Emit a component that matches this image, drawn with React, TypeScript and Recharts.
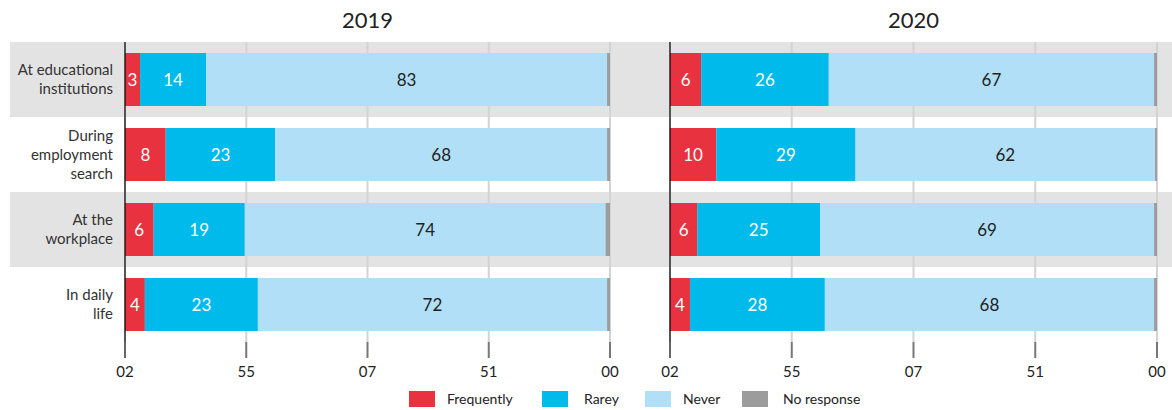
import React from 'react';
import { BarChart, Bar, XAxis, YAxis, CartesianGrid, LabelList } from 'recharts';

const categories = [
  'At educational\ninstitutions',
  'During\nemployment\nsearch',
  'At the\nworkplace',
  'In daily\nlife',
];
const years = ['2019', '2020'];

const frequently2019 = [3.1, 8.4, 5.9, 4.1];
const rarely2019 = [13.6, 22.6, 18.8, 23.3];
const never2019 = [82.7, 68.4, 74.4, 72.0];
const noResponse2019 = [0.6, 0.6, 0.9, 0.6];

const frequently2020 = [6.4, 9.5, 5.6, 4.1];
const rarely2020 = [26.2, 28.6, 25.2, 27.7];
const never2020 = [66.8, 61.5, 68.6, 67.6];
const noResponse2020 = [0.6, 0.4, 0.6, 0.6];

const tickValues = [0, 25, 50, 75, 100];
const tickLabels = ['02', '55', '07', '51', '00'];

const seriesNames = ['Frequently', 'Rarey', 'Never', 'No response'];
const COLORS = ['#e8323f', '#00baeb', '#b1dff7', '#9c9c9c'];
const LABEL_COLORS = ['#ffffff', '#ffffff', '#222222'];

const FONT = 'Lato, "Noto Sans", sans-serif';
const TOP = 42;
const BAND = 75;
const PLOT_H = BAND * categories.length;
const CHART_H = 385;
const BAND_GRAY = '#e3e3e3';

const build = (f: number[], r: number[], n: number[], x: number[]) =>
  categories.map((c, i) => ({ cat: c, f: f[i], r: r[i], n: n[i], x: x[i] }));

const data2019 = build(frequently2019, rarely2019, never2019, noResponse2019);
const data2020 = build(frequently2020, rarely2020, never2020, noResponse2020);

const XTick = (props: any) => {
  const { x, y, index } = props;
  return (
    <g>
      <line x1={x} x2={x} y1={y - 16} y2={y} stroke={index === 0 ? '#000' : '#777'} strokeWidth={index === 0 ? 1.2 : 2} />
      <text x={x} y={y + 19} textAnchor="middle" fontSize={15} fill="#222" fontFamily={FONT}>
        {tickLabels[tickValues.indexOf(props.payload.value)]}
      </text>
    </g>
  );
};

const YTick = (props: any) => {
  const { x, y, payload } = props;
  const lines = String(payload.value).split('\n');
  const lh = 19;
  const start = y - ((lines.length - 1) * lh) / 2;
  return (
    <text x={x} textAnchor="end" fontSize={15} fill="#333" fontFamily={FONT}>
      {lines.map((l, i) => (
        <tspan key={i} x={x} y={start + i * lh + 5}>{l}</tspan>
      ))}
    </text>
  );
};

const Panel = ({ data, yWidth, showY, width, right }: any) => (
  <BarChart
    width={width}
    height={CHART_H}
    data={data}
    layout="vertical"
    margin={{ top: TOP, right, bottom: 0, left: 0 }}
    barSize={53}
  >
    <CartesianGrid horizontal={false} vertical stroke="#d3d3d3" strokeWidth={2} />
    <XAxis
      type="number"
      domain={[0, 100]}
      ticks={tickValues}
      axisLine={false}
      tickLine={false}
      tickSize={16}
      tickMargin={0}
      height={CHART_H - TOP - PLOT_H}
      tick={<XTick />}
      interval={0}
    />
    <YAxis
      type="category"
      dataKey="cat"
      width={yWidth}
      axisLine={{ stroke: '#000', strokeWidth: 1.2 }}
      tickLine={false}
      tickSize={0}
      tickMargin={12}
      tick={showY ? <YTick /> : false}
      interval={0}
    />
    {['f', 'r', 'n', 'x'].map((k, i) => (
      <Bar key={k} dataKey={k} stackId="a" fill={COLORS[i]} isAnimationActive={false} name={seriesNames[i]}>
        {i < 3 && (
          <LabelList
            dataKey={k}
            position="center"
            formatter={(v: any) => Math.round(Number(v))}
            fill={LABEL_COLORS[i]}
            fontSize={17}
            fontFamily={FONT}
          />
        )}
      </Bar>
    ))}
  </BarChart>
);

export default function App() {
  return (
    <div style={{ position: 'absolute', left: 0, top: 0, width: 1172, height: 410, background: '#fff', fontFamily: FONT }}>
      {categories.map((c, i) =>
        i % 2 === 0 ? (
          <div
            key={c}
            style={{ position: 'absolute', left: 10, top: TOP + i * BAND, width: 1162, height: BAND, background: BAND_GRAY }}
          />
        ) : null
      )}
      <div style={{ position: 'absolute', left: 125, width: 485, top: 6, textAlign: 'center', fontSize: 22, color: '#222' }}>{years[0]}</div>
      <div style={{ position: 'absolute', left: 670, width: 487, top: 6, textAlign: 'center', fontSize: 22, color: '#222' }}>{years[1]}</div>
      <div style={{ position: 'absolute', left: 0, top: 0 }}>
        <Panel data={data2019} yWidth={125} showY width={640} right={30} />
      </div>
      <div style={{ position: 'absolute', left: 640, top: 0 }}>
        <Panel data={data2020} yWidth={30} showY={false} width={532} right={15} />
      </div>
      <div style={{ position: 'absolute', left: 0, top: 391, width: 1172, height: 16 }}>
        {seriesNames.map((s, i) => {
          const sq = [409, 542, 645, 742][i];
          const tx = [447, 584, 683, 783][i];
          return (
            <React.Fragment key={s}>
              <div style={{ position: 'absolute', left: sq, top: 0, width: 26, height: 16, background: COLORS[i] }} />
              <div style={{ position: 'absolute', left: tx, top: -1, fontSize: 14, color: '#222', lineHeight: '18px' }}>{s}</div>
            </React.Fragment>
          );
        })}
      </div>
    </div>
  );
}
